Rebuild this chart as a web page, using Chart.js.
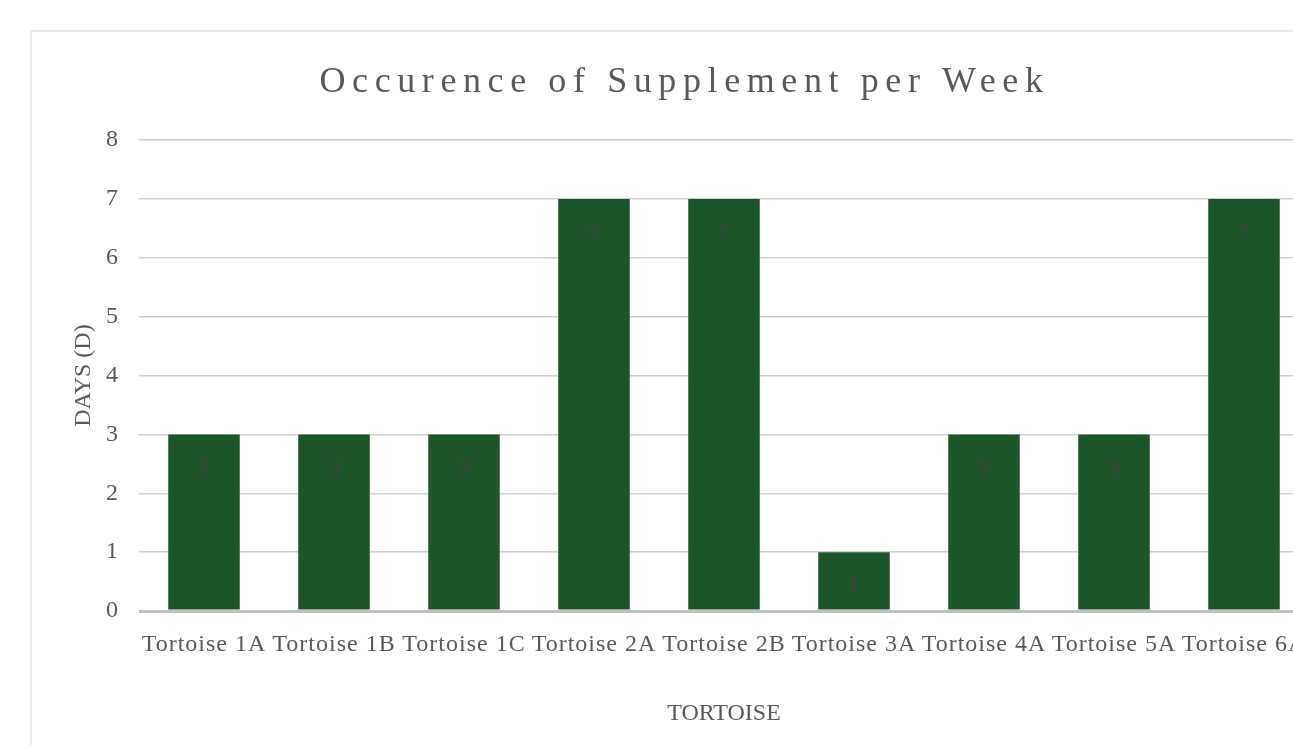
<!DOCTYPE html>
<html>
<head>
<meta charset="utf-8">
<script src="https://cdn.jsdelivr.net/npm/chart.js@4/dist/chart.umd.min.js"></script>
<style>
  html, body { margin: 0; padding: 0; background: #fff; overflow: hidden; width: 1293px; height: 745px; }
  #cadre { position: absolute; left: 30px; top: 30px; width: 1304px; height: 730px; border: 2px solid #ebebeb; background: #fff; }
  #grafico { display: block; }
</style>
</head>
<body>
<div id="cadre"><canvas id="grafico" width="1304" height="730"></canvas></div>
<script>
// categorie e valori
const tartarughe = ['Tortoise 1A', 'Tortoise 1B', 'Tortoise 1C', 'Tortoise 2A', 'Tortoise 2B',
    'Tortoise 3A', 'Tortoise 4A', 'Tortoise 5A', 'Tortoise 6A'];
const giorni = [3, 3, 3, 7, 7, 1, 3, 3, 7];
const tickGiorni = [0, 1, 2, 3, 4, 5, 6, 7, 8];

const grigio = '#595959';
const verde = '#1c552a';
const font = 'Liberation Serif, Times New Roman, serif';

// etichette dentro le barre, in alto
const etichette = {
    id: 'etichette',
    afterDatasetsDraw(chart) {
        const ctx = chart.ctx;
        const meta = chart.getDatasetMeta(0);
        ctx.save();
        ctx.font = '24px ' + font;
        ctx.fillStyle = '#404040';
        ctx.textAlign = 'center';
        ctx.textBaseline = 'middle';
        ctx.letterSpacing = '0px';
        meta.data.forEach((barra, i) => {
            ctx.fillText(String(giorni[i]), barra.x, barra.y + 34);
        });
        ctx.restore();
    }
};

// spaziatura delle lettere: titolo molto largo, etichette asse x un po'
const spaziatura = {
    id: 'spaziatura',
    beforeDraw(chart) {
        const ctx = chart.ctx;
        ctx.letterSpacing = '0px';
        const titolo = chart.titleBlock;
        if (titolo && !titolo._spaziato) {
            const orig = titolo.draw.bind(titolo);
            titolo.draw = function () {
                ctx.save();
                ctx.letterSpacing = '6.6px';
                ctx.translate(14, 0);
                orig();
                ctx.restore();
            };
            titolo._spaziato = true;
        }
        const asseX = chart.scales.x;
        if (asseX && !asseX._spaziato) {
            const origL = asseX.drawLabels.bind(asseX);
            asseX.drawLabels = function (area) {
                ctx.save();
                ctx.letterSpacing = '1px';
                origL(area);
                ctx.restore();
            };
            asseX._spaziato = true;
        }
    }
};

const grafico = new Chart(document.getElementById('grafico').getContext('2d'), {
    type: 'bar',
    data: {
        labels: tartarughe,
        datasets: [{
            data: giorni,
            backgroundColor: verde,
            borderWidth: 0,
            barPercentage: 0.55,
            categoryPercentage: 1
        }]
    },
    options: {
        responsive: false,
        animation: false,
        layout: { padding: { left: 0, right: 27, top: 0, bottom: 0 } },
        plugins: {
            legend: { display: false },
            tooltip: { enabled: false },
            title: {
                display: true,
                text: 'Occurence of Supplement per Week',
                color: grigio,
                font: { family: font, size: 36, weight: 'normal', lineHeight: 1.2 },
                padding: { top: 29, bottom: 36 }
            }
        },
        scales: {
            x: {
                afterFit(scala) { scala.height = 151; },
                grid: { display: false },
                border: { display: false },
                ticks: {
                    color: grigio,
                    font: { family: font, size: 24, lineHeight: 1.2 },
                    padding: 11,
                    autoSkip: false,
                    maxRotation: 0,
                    minRotation: 0
                },
                title: {
                    display: true,
                    text: 'TORTOISE',
                    color: grigio,
                    font: { family: font, size: 24, lineHeight: 1.2 },
                    padding: { top: 40, bottom: 34 }
                }
            },
            y: {
                min: 0,
                max: 8,
                afterFit(scala) { scala.width = 107; },
                afterBuildTicks(scala) {
                    scala.ticks = tickGiorni.map(v => ({ value: v }));
                },
                border: { display: false },
                grid: {
                    drawTicks: false,
                    color: ctx => ctx.tick && ctx.tick.value === 0 ? '#bfbfbf' : '#d0d0d0',
                    lineWidth: ctx => ctx.tick && ctx.tick.value === 0 ? 3 : 1.5
                },
                ticks: {
                    color: grigio,
                    font: { family: font, size: 24, lineHeight: 1.2 },
                    padding: 21
                },
                title: {
                    display: true,
                    text: 'DAYS (D)',
                    color: grigio,
                    font: { family: font, size: 24, lineHeight: 1.2 },
                    padding: { top: 37, bottom: 9 }
                }
            }
        }
    },
    plugins: [spaziatura, etichette]
});
</script>
</body>
</html>
